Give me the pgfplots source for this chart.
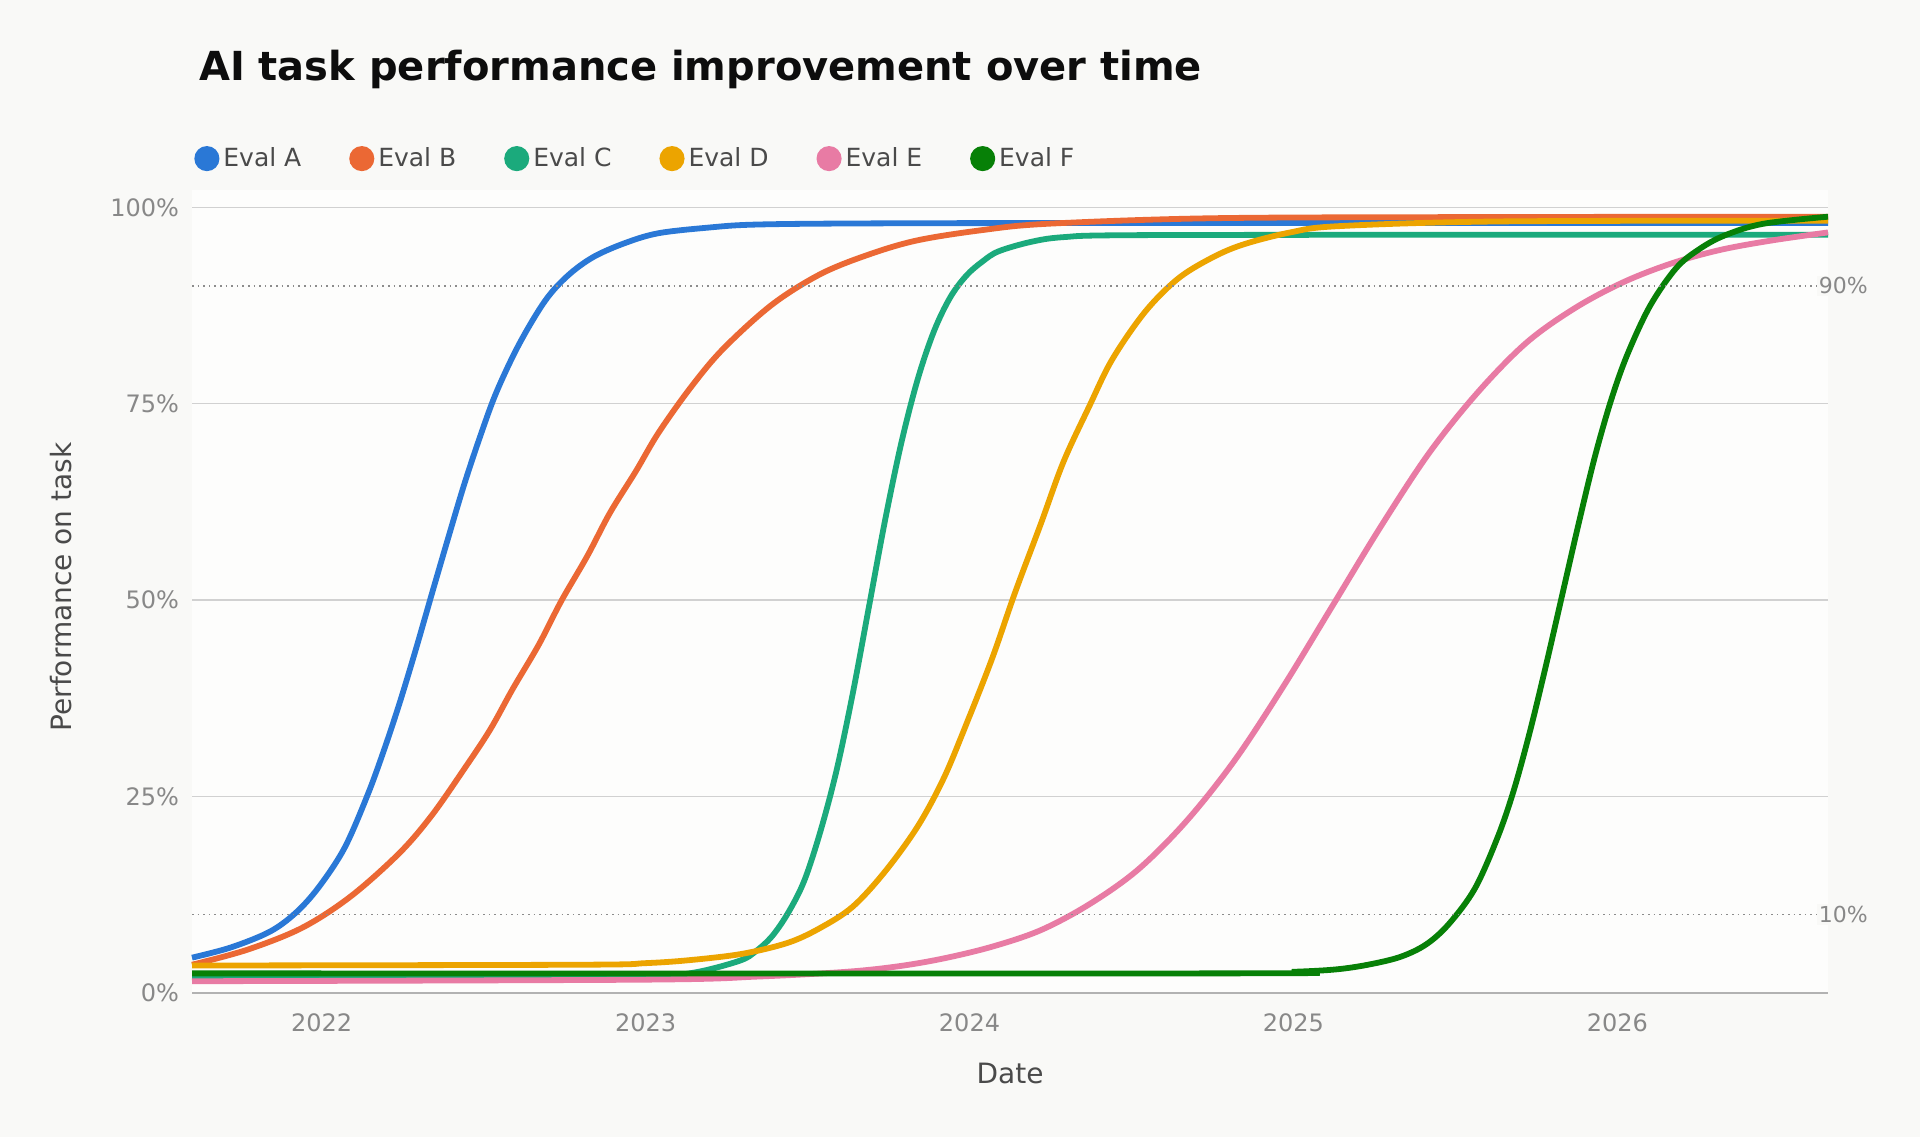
\documentclass[border=0pt]{standalone}
\usepackage{pgfplots}
\pgfplotsset{compat=1.18}
\usepackage{fontspec}
\setmainfont{DejaVu Sans}
\definecolor{bg}{HTML}{F9F9F7}
\definecolor{pa}{HTML}{FDFDFC}
\definecolor{cA}{HTML}{2A78D6}
\definecolor{cB}{HTML}{EB6834}
\definecolor{cC}{HTML}{1BAA7C}
\definecolor{cD}{HTML}{ECA400}
\definecolor{cE}{HTML}{E87BA4}
\definecolor{cF}{HTML}{078007}
\definecolor{tk}{HTML}{888888}
\definecolor{lb}{HTML}{4A4A4A}
\begin{document}
\begin{tikzpicture}
\fill[bg] (0,0) rectangle (960pt,568.5pt);
\node[anchor=base west,font=\bfseries\fontsize{20}{24}\selectfont,text=black!95] at (96pt,528pt) {AI task performance improvement over time};
\node[rotate=90,font=\fontsize{14}{16}\selectfont,text=lb] at (30.6pt,275pt) {Performance on task};
\node[font=\fontsize{14}{16}\selectfont,text=lb] at (505pt,32pt) {Date};
\begin{axis}[at={(96pt,72pt)},anchor=south west,width=818pt,height=401.5pt,scale only axis,
 xmin=2021.6,xmax=2026.65,ymin=0,ymax=102.2,
 axis background/.style={fill=pa},
 axis x line*=bottom, axis y line*=left,
 x axis line style={draw=black!30,line width=1pt},
 y axis line style={draw=none},
 xtick={2022,2023,2024,2025,2026},xticklabels={2022,2023,2024,2025,2026},
 ytick={0,25,50,75,100},
 ymajorgrids, grid style={draw=black!18,line width=0.7pt},
 major tick length=0pt,
 tick label style={font=\fontsize{12}{14}\selectfont,text=tk},
 xticklabel style={yshift=-7pt},
 yticklabel={\pgfmathprintnumber{\tick}\%},
 yticklabel style={xshift=-3pt},
 /pgf/number format/assume math mode=true,
 clip=false,
 legend columns=6,
 legend style={at={(0,1.0)},anchor=south west,yshift=6pt,xshift=-2pt,draw=none,fill=none,
   font=\fontsize{12.5}{14}\selectfont,text=lb,/tikz/every even column/.append style={column sep=22pt}},
 legend image code/.code={\fill[#1] (0.15cm,0) circle (4.8pt);},
 every axis plot/.append style={line width=2.9pt,smooth,tension=0.55,no markers},
]
\addplot[cA] coordinates {(2021.6,4.5)(2021.72,5.8)(2021.84,7.8)(2021.92,10.2)(2021.99,13.4)(2022.07,18.4)(2022.14,25.0)(2022.19,30.6)(2022.24,36.8)(2022.29,43.6)(2022.34,50.75)(2022.39,57.8)(2022.44,64.7)(2022.49,70.9)(2022.54,76.5)(2022.61,82.6)(2022.69,88.1)(2022.76,91.3)(2022.84,93.7)(2022.94,95.5)(2023.04,96.7)(2023.19,97.4)(2023.34,97.8)(2023.7,97.95)(2024.5,98)(2026.65,98)};
\addlegendentry{Eval A}
\addplot[cB] coordinates {(2021.6,3.6)(2021.77,5.5)(2021.94,8.3)(2022.09,12.3)(2022.24,17.8)(2022.34,22.6)(2022.44,28.5)(2022.52,33.5)(2022.59,38.7)(2022.67,44.3)(2022.74,49.9)(2022.82,55.6)(2022.89,61.1)(2022.97,66.4)(2023.04,71.3)(2023.14,77.1)(2023.24,82.0)(2023.39,87.6)(2023.54,91.5)(2023.69,94.0)(2023.84,95.8)(2024.04,97.1)(2024.24,97.9)(2024.74,98.6)(2025.5,98.75)(2026.65,98.8)};
\addlegendentry{Eval B}
\addplot[cC] coordinates {(2021.6,2)(2022.5,2)(2023.0,2.1)(2023.15,2.6)(2023.29,4.1)(2023.34,5.3)(2023.39,7.2)(2023.44,10.2)(2023.49,14.3)(2023.54,20.6)(2023.59,28.4)(2023.64,38.2)(2023.69,49.25)(2023.74,60.3)(2023.79,70.1)(2023.84,78.1)(2023.89,84.2)(2023.94,88.5)(2023.99,91.3)(2024.04,93.1)(2024.09,94.4)(2024.19,95.6)(2024.29,96.2)(2024.5,96.45)(2025.5,96.5)(2026.65,96.5)};
\addlegendentry{Eval C}
\addplot[cD] coordinates {(2021.6,3.5)(2022.8,3.6)(2023.0,3.8)(2023.14,4.2)(2023.3,5.0)(2023.44,6.4)(2023.54,8.3)(2023.64,11.0)(2023.74,15.5)(2023.84,21.2)(2023.92,27.3)(2023.99,34.2)(2024.07,42.6)(2024.14,50.9)(2024.22,59.7)(2024.29,67.6)(2024.37,74.7)(2024.44,80.6)(2024.54,86.6)(2024.64,90.8)(2024.74,93.4)(2024.84,95.2)(2024.99,96.8)(2025.14,97.6)(2025.64,98.2)(2026.65,98.3)};
\addlegendentry{Eval D}
\addplot[cE] coordinates {(2021.6,1.5)(2023.0,1.7)(2023.35,2.1)(2023.62,2.7)(2023.78,3.4)(2023.92,4.4)(2024.07,5.9)(2024.22,8.0)(2024.37,11.3)(2024.52,15.7)(2024.67,21.9)(2024.82,29.7)(2024.97,39.1)(2025.12,49.25)(2025.27,59.4)(2025.42,68.8)(2025.57,76.5)(2025.72,82.8)(2025.87,87.2)(2026.02,90.5)(2026.17,92.9)(2026.32,94.6)(2026.48,95.8)(2026.65,96.8)};
\addlegendentry{Eval E}
\addplot[cF] coordinates {(2021.6,2.5)(2024.8,2.5)(2025.0,2.7)(2025.13,3.0)(2025.23,3.6)(2025.33,4.6)(2025.41,6.2)(2025.48,8.8)(2025.56,13.3)(2025.63,19.8)(2025.68,25.8)(2025.73,33.3)(2025.78,41.8)(2025.83,50.75)(2025.88,59.7)(2025.93,68.2)(2025.98,75.4)(2026.03,81.2)(2026.1,87.4)(2026.18,92.2)(2026.25,94.6)(2026.33,96.4)(2026.45,97.9)(2026.65,98.8)};
\addlegendentry{Eval F}
\addplot[draw=black!45,line width=0.8pt,dotted,sharp plot,forget plot] coordinates {(2021.6,90)(2026.65,90)} node[pos=1,anchor=west,xshift=-6pt,font=\fontsize{11}{13}\selectfont,text=tk,fill=bg,inner sep=1pt] {90\%};
\addplot[draw=black!45,line width=0.8pt,dotted,sharp plot,forget plot] coordinates {(2021.6,10)(2026.65,10)} node[pos=1,anchor=west,xshift=-6pt,font=\fontsize{11}{13}\selectfont,text=tk,fill=bg,inner sep=1pt] {10\%};
\end{axis}
\end{tikzpicture}
\end{document}
